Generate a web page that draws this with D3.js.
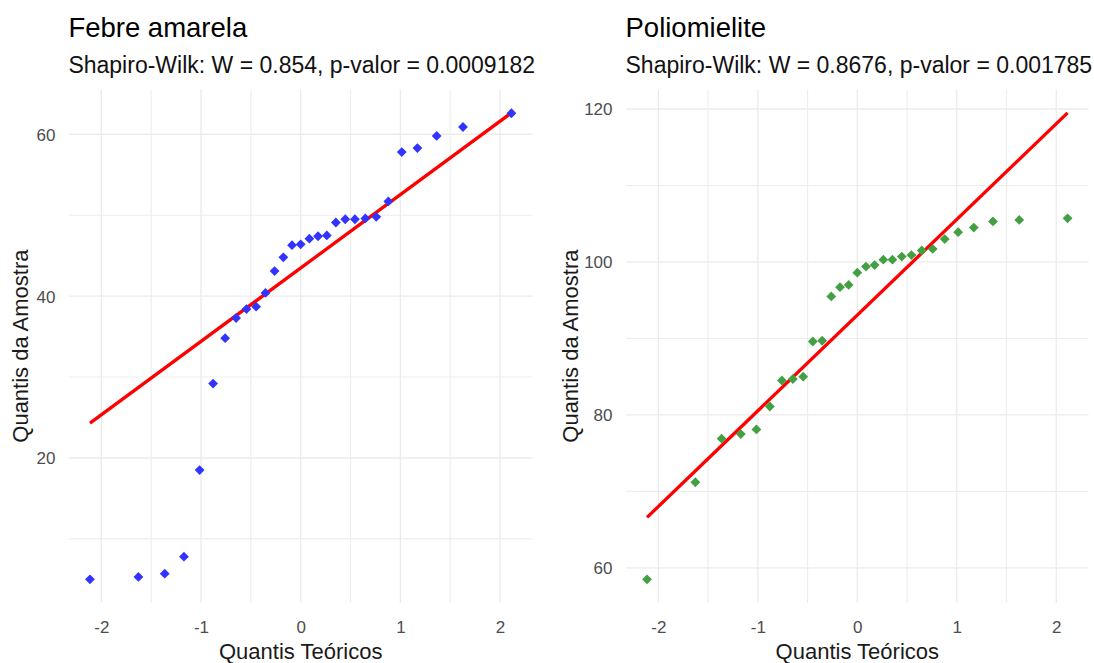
<!DOCTYPE html>
<html>
<head>
<meta charset="utf-8">
<script src="https://cdn.jsdelivr.net/npm/d3@7"></script>
<style>
  html, body { margin: 0; padding: 0; background: #ffffff; }
  svg { display: block; font-family: "Liberation Sans", Arial, sans-serif; }
</style>
</head>
<body>
<svg id="chart" width="1094" height="663"></svg>
<script>
// ---- data ----
const theoreticalQuantiles = [-2.114, -1.628, -1.364, -1.171, -1.014, -0.879, -0.758, -0.648, -0.544, -0.447,
  -0.353, -0.262, -0.174, -0.087, 0, 0.087, 0.174, 0.262, 0.353, 0.447,
  0.544, 0.648, 0.758, 0.879, 1.014, 1.171, 1.364, 1.628, 2.114];
const febreValues = [5.0, 5.3, 5.7, 7.8, 18.5, 29.2, 34.8, 37.3, 38.4, 38.7,
  40.4, 43.1, 44.8, 46.3, 46.4, 47.1, 47.4, 47.5, 49.1, 49.5,
  49.5, 49.6, 49.8, 51.7, 57.8, 58.3, 59.8, 60.9, 62.6];
const polioValues = [58.5, 71.2, 76.9, 77.5, 78.1, 81.1, 84.5, 84.7, 85.0, 89.6,
  89.7, 95.5, 96.7, 97.0, 98.6, 99.4, 99.6, 100.3, 100.3, 100.7,
  100.9, 101.5, 101.7, 103.0, 103.9, 104.5, 105.3, 105.5, 105.7];
const febreLine = [24.3, 62.65];   // qq line values at min / max theoretical quantile
const polioLine = [66.6, 119.5];
const xTicks = [-2, -1, 0, 1, 2];
const xMinorTicks = [-1.5, -0.5, 0.5, 1.5];
const febreYTicks = [20, 40, 60];
const febreYMinor = [10, 30, 50];
const polioYTicks = [60, 80, 100, 120];
const polioYMinor = [70, 90, 110];
const titles = ["Febre amarela", "Poliomielite"];
const subtitles = ["Shapiro-Wilk: W = 0.854, p-valor = 0.0009182", "Shapiro-Wilk: W = 0.8676, p-valor = 0.001785"];
const xTitle = "Quantis Teóricos";
const yTitle = "Quantis da Amostra";

// ---- layout ----
const svg = d3.select("#chart");
const panels = [
  { left: 68.9, right: 532.5, values: febreValues, line: febreLine, yTicks: febreYTicks, yMinor: febreYMinor,
    color: "#3333ff", title: titles[0], subtitle: subtitles[0], yTitleX: 27.5 },
  { left: 626, right: 1088.6, values: polioValues, line: polioLine, yTicks: polioYTicks, yMinor: polioYMinor,
    color: "#449f44", title: titles[1], subtitle: subtitles[1], yTitleX: 577.5 }
];
const plotTop = 89.5, plotBottom = 602.7;

function expand(ext) {
  const d = (ext[1] - ext[0]) * 0.05;
  return [ext[0] - d, ext[1] + d];
}

panels.forEach(p => {
  const g = svg.append("g");
  const xExt = d3.extent(theoreticalQuantiles);
  const x = d3.scaleLinear().domain(expand(xExt)).range([p.left, p.right]);
  const yExt = d3.extent(p.values.concat(p.line));
  const y = d3.scaleLinear().domain(expand(yExt)).range([plotBottom, plotTop]);

  // grid
  const grid = g.append("g");
  grid.selectAll("line.vminor").data(xMinorTicks).join("line")
    .attr("x1", d => x(d)).attr("x2", d => x(d)).attr("y1", plotTop).attr("y2", plotBottom)
    .attr("stroke", "#ededed").attr("stroke-width", 1.1);
  grid.selectAll("line.hminor").data(p.yMinor).join("line")
    .attr("x1", p.left).attr("x2", p.right).attr("y1", d => y(d)).attr("y2", d => y(d))
    .attr("stroke", "#ededed").attr("stroke-width", 1.1);
  grid.selectAll("line.vmajor").data(xTicks).join("line")
    .attr("x1", d => x(d)).attr("x2", d => x(d)).attr("y1", plotTop).attr("y2", plotBottom)
    .attr("stroke", "#ebebeb").attr("stroke-width", 1.3);
  grid.selectAll("line.hmajor").data(p.yTicks).join("line")
    .attr("x1", p.left).attr("x2", p.right).attr("y1", d => y(d)).attr("y2", d => y(d))
    .attr("stroke", "#ebebeb").attr("stroke-width", 1.3);

  // axes (tick labels only, as in theme_minimal)
  const fmt = d => String(d);
  const xAxis = d3.axisBottom(x).tickValues(xTicks).tickSize(0).tickPadding(0).tickFormat(fmt);
  const gx = g.append("g").attr("transform", `translate(0,${plotBottom})`).call(xAxis);
  gx.select(".domain").remove();
  gx.selectAll("text").attr("y", 30).attr("dy", null).attr("fill", "#4d4d4d")
    .style("font-size", "17px").style("font-family", "'Liberation Sans', Arial, sans-serif");

  const yAxis = d3.axisLeft(y).tickValues(p.yTicks).tickSize(0).tickPadding(0).tickFormat(fmt);
  const gy = g.append("g").attr("transform", `translate(${p.left - 13.5},0)`).call(yAxis);
  gy.select(".domain").remove();
  gy.selectAll("text").attr("x", 0).attr("dy", "0.35em").attr("fill", "#4d4d4d")
    .style("font-size", "17px").style("font-family", "'Liberation Sans', Arial, sans-serif");

  // qq line
  g.append("path")
    .datum([[xExt[0], p.line[0]], [xExt[1], p.line[1]]])
    .attr("d", d3.line().x(d => x(d[0])).y(d => y(d[1])))
    .attr("stroke", "#ff0000").attr("stroke-width", 3.3).attr("fill", "none");

  // points (filled diamonds)
  const sym = d3.symbol().type(d3.symbolSquare).size(48);
  g.selectAll("path.pt").data(p.values).join("path")
    .attr("class", "pt")
    .attr("d", sym)
    .attr("transform", (d, i) => `translate(${x(theoreticalQuantiles[i])},${y(d)}) rotate(45)`)
    .attr("fill", p.color);

  // titles
  g.append("text").attr("x", p.left - 0.5).attr("y", 37).text(p.title)
    .attr("fill", "#000").style("font-size", "27.5px");
  g.append("text").attr("x", p.left - 0.5).attr("y", 73).text(p.subtitle)
    .attr("fill", "#111").style("font-size", "23px");

  // axis titles
  g.append("text").attr("x", (p.left + p.right) / 2).attr("y", 659).attr("text-anchor", "middle")
    .text(xTitle).attr("fill", "#1a1a1a").style("font-size", "22px");
  g.append("text").attr("transform", `translate(${p.yTitleX},${(plotTop + plotBottom) / 2}) rotate(-90)`)
    .attr("text-anchor", "middle").text(yTitle).attr("fill", "#1a1a1a").style("font-size", "22px");
});
</script>
</body>
</html>
